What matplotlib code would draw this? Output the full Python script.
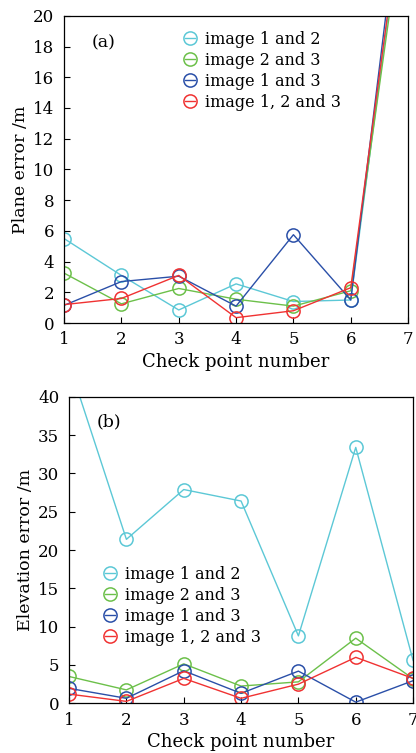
import matplotlib
matplotlib.use("Agg")
import matplotlib.pyplot as plt

plt.rcParams['font.family'] = ['DejaVu Serif']
plt.rcParams['mathtext.fontset'] = 'dejavuserif'

check_points = [1, 2, 3, 4, 5, 6, 7]
series_names = ["image 1 and 2", "image 2 and 3", "image 1 and 3", "image 1, 2 and 3"]
colors = ["#5cc8d6", "#6cc04a", "#2a4fa8", "#f03232"]

# (a) plane error, m
plane_12 = [5.5, 3.1, 0.85, 2.55, 1.4, 1.5, 30.0]
plane_23 = [3.25, 1.25, 2.25, 1.55, 1.1, 2.1, 28.8]
plane_13 = [1.15, 2.7, 3.05, 1.1, 5.75, 1.5, 31.8]
plane_123 = [1.2, 1.6, 3.1, 0.35, 0.8, 2.3, 30.0]

# (b) elevation error, m
elev_12 = [44.3, 21.4, 27.9, 26.4, 8.8, 33.4, 5.6]
elev_23 = [3.5, 1.75, 5.15, 2.25, 2.8, 8.5, 3.2]
elev_13 = [1.95, 0.65, 4.25, 1.3, 4.2, 0.15, 2.95]
elev_123 = [1.2, 0.25, 3.25, 0.65, 2.5, 6.0, 3.25]

plane = [plane_12, plane_23, plane_13, plane_123]
elev = [elev_12, elev_23, elev_13, elev_123]

fig = plt.figure(figsize=(4.16, 7.53), dpi=100)
ax1 = fig.add_axes([0.154, 0.571, 0.827, 0.408])
ax2 = fig.add_axes([0.166, 0.066, 0.827, 0.407])


def draw(ax, data, ylim, yticks, ylabel, tag, tag_y, legend_anchor):
    for vals, name, c in zip(data, series_names, colors):
        ax.plot(check_points, vals, color=c, lw=1.0, marker='o', ms=9.5,
                mfc='none', mec=c, mew=1.1, label=name)
    ax.set_xlim(1, 7)
    ax.set_ylim(*ylim)
    ax.set_xticks(check_points)
    ax.set_yticks(yticks)
    ax.tick_params(direction='in', labelsize=12, length=4, width=0.8)
    ax.tick_params(axis='x', pad=6)
    ax.tick_params(axis='y', pad=7)
    ax.set_xlabel("Check point number", fontsize=13, labelpad=3)
    ax.set_ylabel(ylabel, fontsize=12.5, labelpad=3)
    for s in ax.spines.values():
        s.set_linewidth(0.9)
    ax.text(0.08, tag_y, tag, transform=ax.transAxes, fontsize=12.5)
    ax.legend(loc='upper left', bbox_to_anchor=legend_anchor, frameon=False,
              fontsize=11.5, handlelength=0.6, handletextpad=0.65,
              labelspacing=0.25, borderpad=0, borderaxespad=0)


draw(ax1, plane, (0, 20), range(0, 21, 2), "Plane error /m", "(a)", 0.898,
     (0.352, 0.952))
draw(ax2, elev, (0, 40), range(0, 41, 5), "Elevation error /m", "(b)", 0.905,
     (0.105, 0.448))

fig.savefig("out.png", dpi=100)
